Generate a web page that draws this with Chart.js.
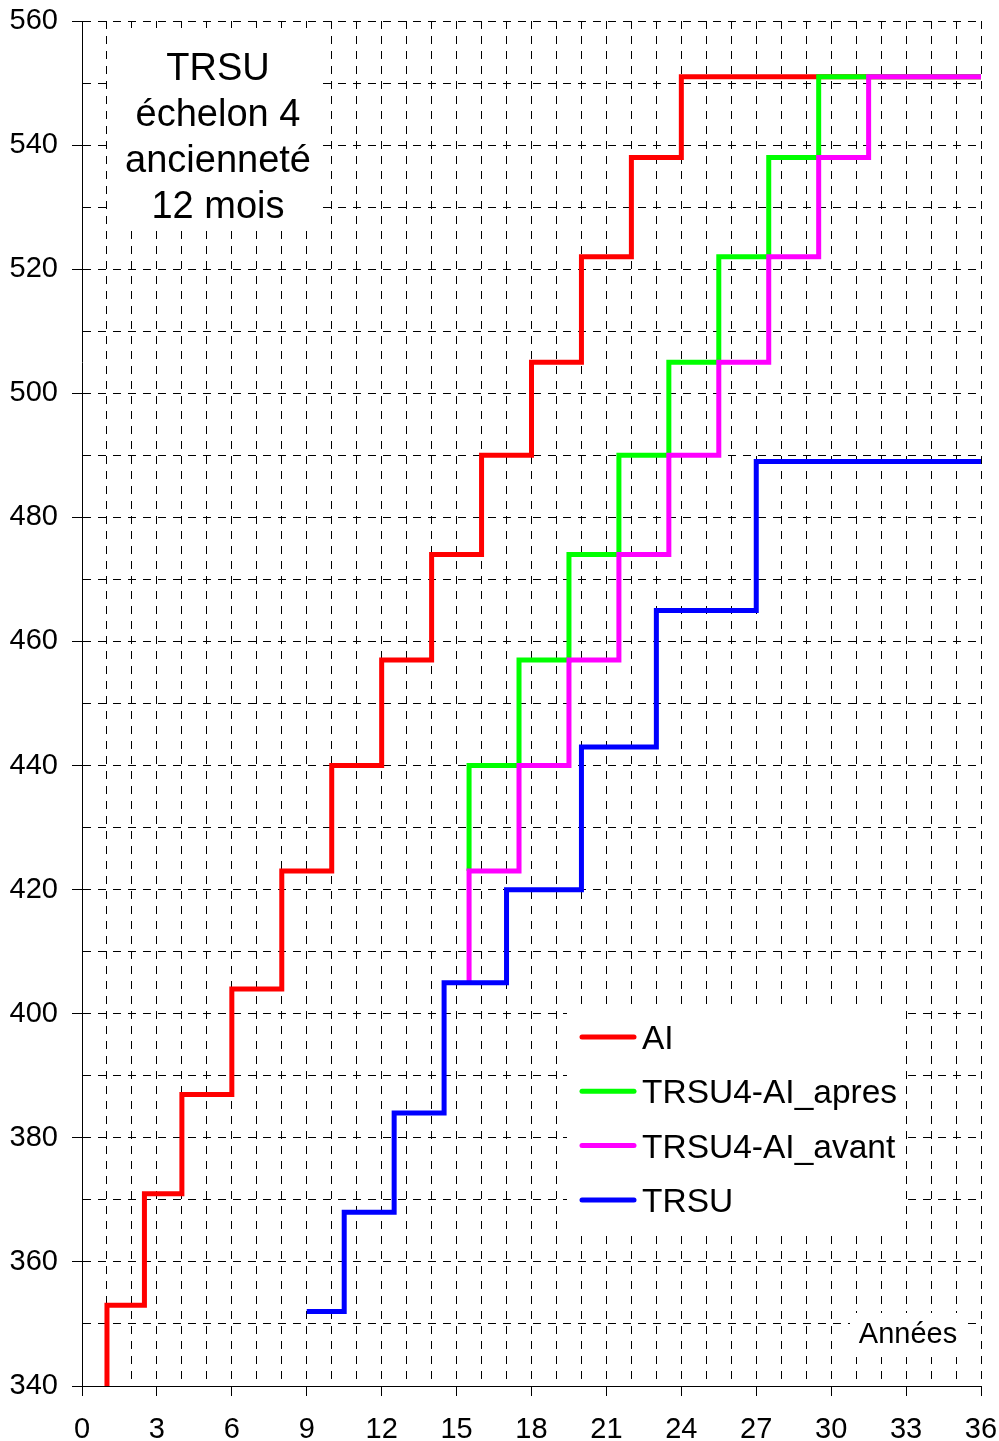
<!DOCTYPE html>
<html>
<head>
<meta charset="utf-8">
<script src="https://cdn.jsdelivr.net/npm/chart.js@4.4.0/dist/chart.umd.min.js"></script>
<style>
  body { margin: 0; background: #fff; }
  #wrap { width: 999px; height: 1441px; }
</style>
</head>
<body>
<div id="wrap"><canvas id="myChart" width="999" height="1441"></canvas></div>
<script>
// data (years, indice majoré)
const aiYears = [1, 1, 2.5, 4, 6, 8, 10, 12, 14, 16, 18, 20, 22, 24, 36];
const aiValues = [340, 353, 371, 387, 404, 423, 440, 457, 474, 490, 505, 522, 538, 551, 551];

const apresYears = [15.5, 15.5, 17.5, 19.5, 21.5, 23.5, 25.5, 27.5, 29.5, 36];
const apresValues = [423, 440, 457, 474, 490, 505, 522, 538, 551, 551];

const avantYears = [15.5, 15.5, 17.5, 19.5, 21.5, 23.5, 25.5, 27.5, 29.5, 31.5, 36];
const avantValues = [405, 423, 440, 457, 474, 490, 505, 522, 538, 551, 551];

const trsuYears = [9, 10.5, 12.5, 14.5, 17, 20, 23, 27, 36];
const trsuValues = [352, 368, 384, 405, 420, 443, 465, 489, 489];

const seriesNames = ['AI', 'TRSU4-AI_apres', 'TRSU4-AI_avant', 'TRSU'];
const titleLines = ['TRSU', 'échelon 4', 'ancienneté', '12 mois'];
const xTitle = 'Années';

const FONT = "'Liberation Sans', Arial, sans-serif";

function toPoints(xs, ys) {
  return xs.map((x, i) => ({ x: x, y: ys[i] }));
}

function makeSet(name, xs, ys, color, order) {
  return {
    label: name,
    data: toPoints(xs, ys),
    borderColor: color,
    backgroundColor: color,
    borderWidth: 5,
    pointRadius: 0,
    fill: false,
    stepped: 'before',
    order: order
  };
}

// white boxes + texts on top of the grid
const decor = {
  id: 'decor',
  beforeDatasetsDraw(chart) {
    const { ctx, chartArea: a } = chart;
    ctx.save();
    ctx.fillStyle = '#fff';
    // title box
    ctx.fillRect(a.left + 28, a.top + 7, 210, 197);
    // x title box
    ctx.fillRect(a.left + 768, a.top + 1292, 112, 44);
    // legend box
    ctx.fillRect(a.left + 485, a.top + 989, 336, 223);

    ctx.fillStyle = '#000';
    ctx.textAlign = 'center';
    ctx.textBaseline = 'alphabetic';
    ctx.font = '38px ' + FONT;
    titleLines.forEach((t, i) => {
      ctx.fillText(t, a.left + 136, a.top + 59 + i * 46);
    });

    ctx.font = '29px ' + FONT;
    ctx.fillText(xTitle, a.left + 826, a.top + 1322);

    // legend
    ctx.textAlign = 'left';
    ctx.font = '33.5px ' + FONT;
    chart.data.datasets.forEach((ds, i) => {
      const y = a.top + 1016 + i * 54.3;
      ctx.strokeStyle = ds.borderColor;
      ctx.lineWidth = 5;
      ctx.lineCap = 'round';
      ctx.beginPath();
      ctx.moveTo(a.left + 500, y);
      ctx.lineTo(a.left + 552, y);
      ctx.stroke();
      ctx.fillStyle = '#000';
      ctx.fillText(ds.label, a.left + 560, y + 12);
    });
    ctx.restore();
  }
};

const ctx = document.getElementById('myChart').getContext('2d');
const chart = new Chart(ctx, {
  type: 'line',
  data: {
    datasets: [
      makeSet(seriesNames[0], aiYears, aiValues, '#ff0000', 4),
      makeSet(seriesNames[1], apresYears, apresValues, '#00ff00', 3),
      makeSet(seriesNames[2], avantYears, avantValues, '#ff00ff', 2),
      makeSet(seriesNames[3], trsuYears, trsuValues, '#0000ff', 1)
    ]
  },
  options: {
    responsive: false,
    animation: false,
    layout: { padding: { top: 21, right: 18, left: 0, bottom: 0 } },
    plugins: {
      legend: { display: false },
      tooltip: { enabled: false }
    },
    scales: {
      x: {
        type: 'linear',
        min: 0,
        max: 36,
        afterFit: (s) => {
          s.height = 55;
          s.paddingLeft = 0;
          s.paddingRight = 0;
        },
        ticks: {
          stepSize: 1,
          autoSkip: false,
          maxRotation: 0,
          padding: 17,
          color: '#000',
          font: { size: 29, family: FONT },
          callback: (v) => (v % 3 === 0 ? v : '')
        },
        grid: {
          color: '#000',
          lineWidth: 1,
          tickLength: 10,
          tickColor: (c) => (c.tick && c.tick.value % 3 === 0 ? '#000' : 'rgba(0,0,0,0)')
        },
        border: { color: '#000', width: 1, dash: [8, 7] }
      },
      y: {
        min: 340,
        max: 560,
        afterFit: (s) => {
          s.width = 82;
          s.paddingTop = 0;
          s.paddingBottom = 0;
        },
        ticks: {
          stepSize: 10,
          autoSkip: false,
          padding: 14,
          color: '#000',
          font: { size: 29, family: FONT },
          callback: (v) => (v % 20 === 0 ? v : '')
        },
        grid: {
          color: '#000',
          lineWidth: 1,
          tickLength: 10,
          tickColor: (c) => (c.tick && c.tick.value % 20 === 0 ? '#000' : 'rgba(0,0,0,0)')
        },
        border: { color: '#000', width: 1, dash: [8, 7] }
      }
    }
  },
  plugins: [decor]
});
</script>
</body>
</html>
